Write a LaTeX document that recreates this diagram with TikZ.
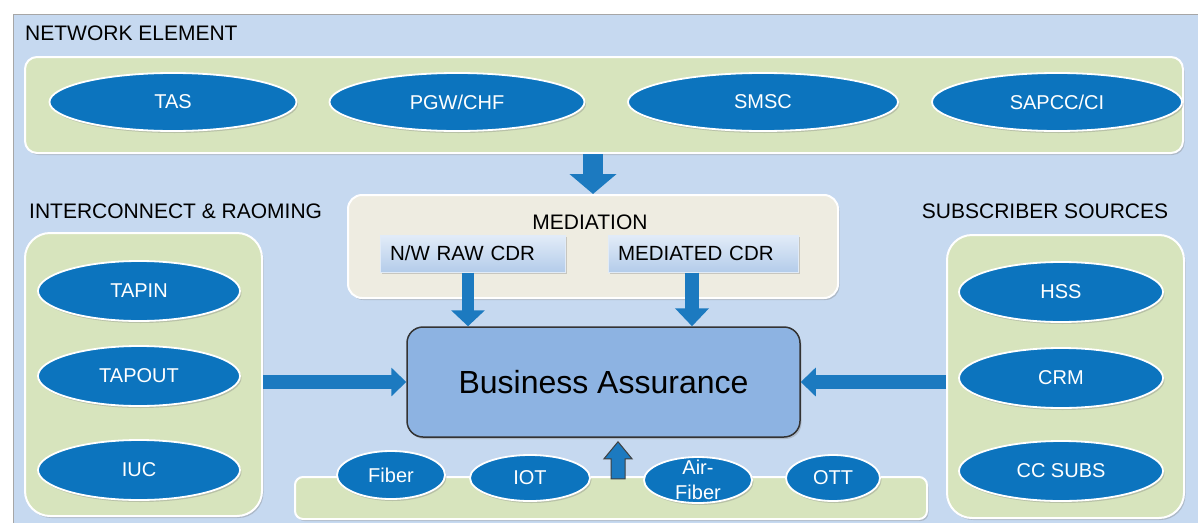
\documentclass[tikz,border=0pt]{standalone}
\usepackage{fontspec}
\setmainfont{Liberation Sans}
\usetikzlibrary{shapes.geometric,arrows.meta,shadows,calc}
\definecolor{bgblue}{RGB}{198,217,240}
\definecolor{panelgreen}{RGB}{215,228,189}
\definecolor{medbeige}{RGB}{238,236,225}
\definecolor{ellblue}{RGB}{12,116,190}
\definecolor{arrblue}{RGB}{28,122,192}
\definecolor{bafill}{RGB}{141,179,226}
\definecolor{cdrtop}{RGB}{226,236,248}
\definecolor{cdrbot}{RGB}{180,204,234}
\tikzset{
  shad/.style={drop shadow={opacity=0.35,shadow xshift=1.5pt,shadow yshift=-2pt}},
  panel/.style={rectangle, draw=white, line width=2pt, fill=panelgreen, inner sep=0pt, shad},
  ell/.style={ellipse, draw=white, line width=1.8pt, fill=ellblue, text=white, inner sep=0pt,
    font=\fontsize{20}{24}\selectfont, shad},
  heading/.style={font=\fontsize{21}{25}\selectfont, text=black, inner sep=0pt},
  cdrbox/.style={rectangle, top color=cdrtop, bottom color=cdrbot, draw=white!60!cdrbot, line width=1pt,
    font=\fontsize{20.5}{24}\selectfont, minimum height=37pt, inner xsep=10pt, inner ysep=0pt, align=left, shad},
  blk/.style={draw=arrblue},
}
\begin{document}
\begin{tikzpicture}[x=1pt,y=-1pt]
\useasboundingbox (0,0) rectangle (1198,522);
\clip (0,0) rectangle (1198,522);
\fill[white] (0,0) rectangle (1198,522);
% outer frame
\draw[fill=bgblue, draw=gray!70, line width=1pt, shad] (13,14) rectangle (1230,560);

% headings
\node[heading, anchor=west] (hne) at (25,33) {NETWORK ELEMENT};
\node[heading, anchor=west] (hic) at (29,211) {INTERCONNECT \& RAOMING};
\node[heading] (hss) at (1045,211) {SUBSCRIBER SOURCES};

% panels
\node[panel, rounded corners=12pt, minimum width=1158pt, minimum height=96pt] (ne) at (604,105) {};
\node[panel, rounded corners=14pt, fill=medbeige, minimum width=490pt, minimum height=103pt] (med) at (593,246.5) {};
\node[panel, rounded corners=25pt, minimum width=237pt, minimum height=283pt] (lp) at (143.5,374.5) {};
\node[panel, rounded corners=25pt, minimum width=237pt, minimum height=283pt] (rp) at (1065.5,376.5) {};
\node[panel, rounded corners=8pt, minimum width=632pt, minimum height=42pt] (bp) at (611,498) {};

% network elements
\node[ell, minimum width=247pt, minimum height=58pt] (tas) at (173,102) {TAS};
\node[ell, minimum width=255pt, minimum height=58pt] (pgw) at (457,102) {PGW/CHF};
\node[ell, minimum width=270pt, minimum height=58pt] (smsc) at (763,102) {SMSC};
\node[ell, minimum width=250pt, minimum height=58pt] (sap) at (1057,102) {SAPCC/CI};

% mediation
\node[heading] (hmed) at (590,222) {MEDIATION};
\node[cdrbox, text width=165pt] (raw) at (472.5,253.5) {N/W RAW CDR};
\node[cdrbox, text width=170pt] (mcdr) at (703,253.5) {MEDIATED CDR};

% business assurance
\node[rectangle, rounded corners=16pt, fill=bafill, draw=black!80, line width=1.5pt,
  minimum width=393pt, minimum height=110pt, font=\fontsize{32}{36}\selectfont, shad] (ba) at (603.5,382) {Business Assurance};

% interconnect
\node[ell, minimum width=202pt, minimum height=60pt] (tapin) at (139,291) {TAPIN};
\node[ell, minimum width=202pt, minimum height=60pt] (tapout) at (139,376) {TAPOUT};
\node[ell, minimum width=202pt, minimum height=60pt] (iuc) at (139,470) {IUC};

% subscriber sources
\node[ell, minimum width=204pt, minimum height=60pt] (hssn) at (1061,292) {HSS};
\node[ell, minimum width=204pt, minimum height=60pt] (crm) at (1061,378) {CRM};
\node[ell, minimum width=204pt, minimum height=60pt] (ccs) at (1061,471) {CC SUBS};

% bottom sources
\node[ell, minimum width=108pt, minimum height=48pt] (fiber) at (391,475) {Fiber};
\node[ell, minimum width=120pt, minimum height=46pt] (iot) at (530,478) {IOT};
\node[ell, minimum width=108pt, minimum height=46pt] (af) at (698,480) {};
\node[text=white, font=\fontsize{20}{25}\selectfont, align=center, inner sep=0pt] (aft) at (698,480) {Air-\\Fiber};
\node[ell, minimum width=94pt, minimum height=46pt] (ott) at (833,478) {OTT};

% arrows
\draw[blk, line width=20pt, -{Triangle[width=46pt,length=20pt]}] (ne.south -| med.north) -- (med.north);
\draw[blk, line width=12pt, -{Triangle[width=33pt,length=16pt]}] ([xshift=-4.5pt]raw.south) -- ([xshift=-4.5pt]raw.south |- ba.north);
\draw[blk, line width=14pt, -{Triangle[width=33pt,length=18pt]}] ([xshift=-11pt]mcdr.south) -- ([xshift=-11pt]mcdr.south |- ba.north);
\draw[blk, line width=14pt, -{Triangle[width=28pt,length=15pt]}] (lp.east |- ba.west) -- (ba.west);
\draw[blk, line width=14pt, -{Triangle[width=28pt,length=15pt]}] (rp.west |- ba.east) -- (ba.east);
\coordinate (ux) at (618,0);
\coordinate (ut) at ([yshift=-4pt]ba.south -| ux);
\draw[fill=arrblue, draw=black!75, line width=1pt] (ut) -- ++(14,17) -- ++(-7,0) -- ++(0,20) -- ++(-14,0) -- ++(0,-20) -- ++(-7,0) -- cycle;
\end{tikzpicture}
\end{document}
